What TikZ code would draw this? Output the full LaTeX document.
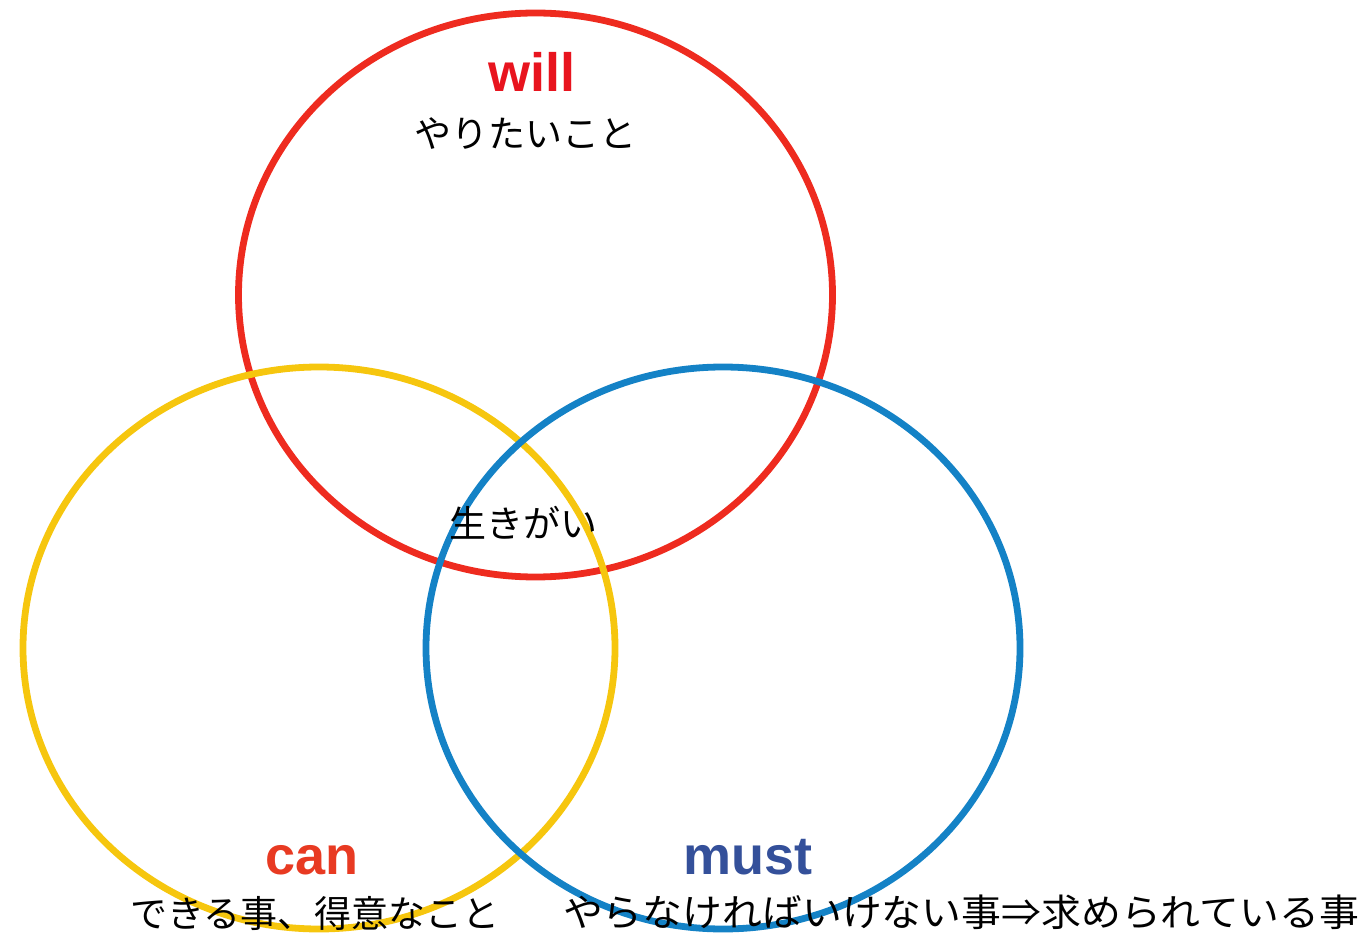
\documentclass[tikz,border=0pt]{standalone}
\usepackage{graphicx}
\usepackage{fontspec}
\setmainfont{Liberation Sans}
\newfontfamily\jpfont{Noto Sans CJK JP}
\definecolor{cred}{HTML}{EE2B1F}
\definecolor{cyellow}{HTML}{F6C60E}
\definecolor{cblue}{HTML}{1482C6}
\definecolor{willred}{HTML}{E8141E}
\definecolor{canred}{HTML}{E83A22}
\definecolor{mustblue}{HTML}{34509A}
\tikzset{
  ring/.style={line width=3.4pt},
  eng/.style={font=\fontsize{27}{27}\selectfont\bfseries, inner sep=0pt, anchor=base},
  jp/.style={font=\jpfont\fontsize{18.5}{18.5}\selectfont, inner sep=0pt, anchor=center, text=black}
}
\begin{document}
\begin{tikzpicture}[x=0.5pt,y=-0.5pt]
\useasboundingbox (0,0) rectangle (1365,935);
\draw[ring, cred] (535.5,295) ellipse [x radius=297, y radius=282];
\draw[ring, cyellow] (319,648) ellipse [x radius=296, y radius=281];
\draw[ring, cblue] (723,648) ellipse [x radius=297, y radius=281];
\node[eng, text=willred] (will) at (532,92) {will};
\node[jp] (willjp) at (525,134) {やりたいこと};
\node[jp] (center) at (523,523) {生きがい};
\node[eng, text=canred] (can) at (312,874) {can};
\node[jp] (canjp) at (315,913) {できる事、得意なこと};
\node[eng, text=mustblue] (must) at (748,874) {must};
\node[jp, font=\jpfont\fontsize{18.8}{18.8}\selectfont] (mustjp) at (961,912) {\scalebox{1.06}[1]{やらなければいけない事\makebox[1em]{⇒}求められている事}};
\end{tikzpicture}
\end{document}
